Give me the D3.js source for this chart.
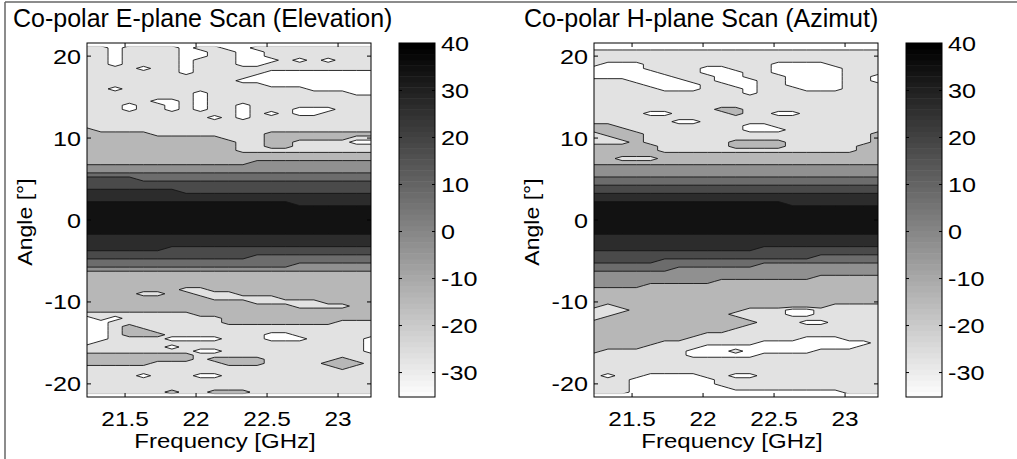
<!DOCTYPE html>
<html>
<head>
<meta charset="utf-8">
<script src="https://cdn.jsdelivr.net/npm/d3@7"></script>
<style>
body { margin: 0; background: #fff; }
text { font-family: "Liberation Sans", Arial, sans-serif; fill: #000; }
</style>
</head>
<body>
<svg id="fig" width="1017" height="459"></svg>
<script>
// sample grid: frequency columns and angle rows
const freqs = [21.23, 21.33, 21.43, 21.53, 21.63, 21.73, 21.83, 21.93, 22.03, 22.13, 22.23,
  22.33, 22.43, 22.53, 22.63, 22.73, 22.83, 22.93, 23.03, 23.13, 23.23];
const angles = [21, 20.5, 20, 19.5, 19, 18.5, 18, 17.5, 17, 16.5, 16, 15.5, 15, 14.5, 14, 13.5,
  13, 12.5, 12, 11.5, 11, 10.5, 10, 9.5, 9, 8.5, 8, 7.5, 7, 6.5, 6, 5.5, 5, 4.5, 4, 3.5, 3, 2.5,
  2, 1.5, 1, 0.5, 0, -0.5, -1, -1.5, -2, -2.5, -3, -3.5, -4, -4.5, -5, -5.5, -6, -6.5, -7, -7.5,
  -8, -8.5, -9, -9.5, -10, -10.5, -11, -11.5, -12, -12.5, -13, -13.5, -14, -14.5, -15, -15.5,
  -16, -16.5, -17, -17.5, -18, -18.5, -19, -19.5, -20, -20.5, -21];

// contour levels (dB) and the value each grid code stands for
const levels = [-30, -20, -10, 0, 10, 20, 30];
const codeDb = [-35, -25, -15, -5, 5, 15, 25, 35];
const levelFills = ["#e2e2e2", "#b7b7b7", "#909090", "#6c6c6c", "#4a4a4a", "#2c2c2c", "#121212"];

const xTicks = [21.5, 22, 22.5, 23];
const yTicks = [-20, -10, 0, 10, 20];
const cbarTicks = [-30, -20, -10, 0, 10, 20, 30, 40];
const cbarRange = [-35.2, 40.1];

// one string per angle row (top = +21 deg), one digit per frequency column
const ePlaneRows = [
  "11011 11011 00111 11111 1",
  "11011 11001 10011 11111 1",
  "11011 11001 10011 11111 1",
  "11011 11011 10001 01011 1",
  "11011 11011 10011 11111 1",
  "11110 11011 11111 11111 1",
  "11111 11011 11100 00000 0",
  "11111 11111 11000 00000 0",
  "11111 11111 10000 00000 0",
  "11111 11111 11100 00000 0",
  "11011 11111 11111 10000 0",
  "11111 11101 11111 11110 0",
  "11111 11101 11111 11111 1",
  "11111 00101 11111 11111 1",
  "11101 10101 10111 11111 1",
  "11101 10101 10111 00011 1",
  "11111 11111 10101 00111 1",
  "11111 11110 10111 11111 1",
  "11111 11111 11111 11111 1",
  "11111 11111 11111 11111 1",
  "21111 11111 11111 11111 1",
  "22222 11111 11122 22222 2",
  "22222 22222 11122 22221 1",
  "22222 22222 21122 11110 0",
  "22222 22222 21122 11111 1",
  "22222 22222 21111 11111 1",
  "22222 22222 22222 22222 2",
  "22222 22222 22222 22222 2",
  "22222 22222 22333 33333 3",
  "33333 33333 33333 33333 3",
  "33333 33333 33333 33333 3",
  "44444 44444 44444 44444 4",
  "55554 44444 44444 44444 4",
  "55555 55555 55555 55555 5",
  "55555 55555 55555 55555 5",
  "66666 66555 55555 55555 5",
  "66666 66666 66666 66666 6",
  "66666 66666 66666 66666 6",
  "77777 77777 77777 66666 6",
  "77777 77777 77777 77777 7",
  "77777 77777 77777 77777 7",
  "77777 77777 77777 77777 7",
  "77777 77777 77777 77777 7",
  "77777 77777 77777 77777 7",
  "77777 77777 77777 77777 7",
  "77777 77777 77777 77777 7",
  "66666 66666 66666 66666 6",
  "66666 66666 66666 66666 6",
  "66666 66666 66666 66666 6",
  "66666 65555 55555 55555 5",
  "55555 55555 55555 55555 5",
  "55555 55555 55444 44444 4",
  "44444 44444 44444 44444 4",
  "44444 44444 44444 33333 3",
  "33333 33333 33333 33333 3",
  "22222 22222 22222 22222 2",
  "22222 22222 22222 22222 2",
  "22222 22222 22222 22222 2",
  "22222 22222 22222 22222 2",
  "22222 22112 22222 22222 2",
  "22221 12211 12222 22222 2",
  "22222 22221 11112 22222 2",
  "22222 22222 22111 11222 2",
  "22222 22222 22222 11112 2",
  "22222 22222 22222 22222 2",
  "11111 11122 22222 22222 2",
  "01011 11111 22222 22222 2",
  "00111 11111 22222 22211 1",
  "00121 11111 11111 11111 1",
  "00122 11111 11111 11111 1",
  "00122 21111 11100 11111 1",
  "00111 10000 11100 01111 0",
  "01111 11111 11111 11111 0",
  "11111 10111 11111 11111 0",
  "11111 11100 11111 11111 0",
  "22222 22211 11111 11111 1",
  "22222 22212 22211 11121 1",
  "22222 11111 22211 11222 1",
  "11111 11111 11111 11121 1",
  "11111 11111 11111 11111 1",
  "11110 11100 11111 11111 1",
  "11111 11111 11111 11111 1",
  "11111 11111 11111 11111 1",
  "11111 11111 11111 11111 1",
  "11111 12112 22111 11111 1"
];

const hPlaneRows = [
  "00000 00000 00000 00000 0",
  "11111 11111 11111 11111 1",
  "11111 11111 11111 11111 1",
  "11111 11111 11111 11111 1",
  "10001 11111 11100 00111 1",
  "00001 11100 11100 00011 1",
  "00000 11100 01100 00011 1",
  "00000 01110 01110 00011 0",
  "11100 00110 00110 00011 0",
  "11110 00011 00110 00011 1",
  "11111 00011 10111 00011 1",
  "11111 11111 10111 11111 1",
  "11111 11111 11111 11111 1",
  "11111 11111 11111 11111 1",
  "11111 11111 11111 11111 1",
  "11111 11112 21111 11111 1",
  "11110 01111 21100 11111 1",
  "11111 11111 11111 11111 1",
  "11111 10011 11111 11111 1",
  "22111 11111 10011 11111 1",
  "22211 11111 10001 11111 1",
  "12221 11111 11111 11111 2",
  "11221 11111 11111 11111 2",
  "11121 11111 22221 11111 2",
  "22222 11111 22221 11112 2",
  "22222 11111 11111 11112 2",
  "22222 22222 22222 22222 2",
  "22111 22222 22222 22222 2",
  "22222 22222 22222 22222 2",
  "33333 33333 33333 33333 3",
  "33333 33333 33333 33333 3",
  "33333 33333 33333 33333 3",
  "44444 44444 44444 44444 4",
  "44444 44444 44444 44444 4",
  "55555 55555 55555 55555 5",
  "55555 55555 55555 55555 5",
  "66666 66666 66666 66666 6",
  "66666 66666 66666 66666 6",
  "77777 77777 77776 66666 6",
  "77777 77777 77777 77777 7",
  "77777 77777 77777 77777 7",
  "77777 77777 77777 77777 7",
  "77777 77777 77777 77777 7",
  "77777 77777 77777 77777 7",
  "77777 77777 77777 77777 7",
  "77777 77777 77777 77777 7",
  "66666 66666 66666 66666 6",
  "66666 66666 66666 66666 6",
  "66666 66666 66666 66666 6",
  "66666 66666 66555 55555 5",
  "55555 55555 55555 55555 5",
  "55555 55555 55555 54444 4",
  "55555 44444 44444 44444 4",
  "44444 44444 44333 33333 3",
  "44444 43333 33333 33333 3",
  "33333 33333 33333 33333 3",
  "33333 33333 33333 32222 2",
  "33333 33332 22222 22222 2",
  "33332 22222 22222 22222 2",
  "22222 22222 22222 22222 2",
  "22222 22222 22222 22222 2",
  "22222 22222 22222 22222 2",
  "22222 22222 22222 22222 2",
  "21222 22222 22222 22111 1",
  "11122 22222 21110 01111 1",
  "11222 22222 11110 01111 1",
  "12222 22222 21111 11111 1",
  "22222 22222 22111 00111 1",
  "22222 22222 21111 11111 1",
  "22222 22222 11111 11111 1",
  "22222 22211 11111 11111 1",
  "22222 22111 11111 00011 1",
  "22222 11111 11000 00000 1",
  "22221 11100 00000 00001 1",
  "21111 11000 10000 01111 1",
  "11111 11000 00111 11111 1",
  "11111 11111 11111 11111 1",
  "11111 11111 11111 11111 1",
  "11111 11111 11111 11111 1",
  "11111 11111 11111 11111 1",
  "10110 00011 00111 11111 1",
  "11100 00001 11111 11111 1",
  "11100 00001 11111 11111 1",
  "11100 00000 11111 11111 1",
  "11100 00000 00000 00011 1"
];

const svg = d3.select("#fig");
svg.append("rect").attr("width", 1017).attr("height", 459).attr("fill", "#fff");

// figure frame (top and left edges visible in the picture)
svg.append("line").attr("x1", 5).attr("y1", 2).attr("x2", 1017).attr("y2", 2)
  .attr("stroke", "#666").attr("stroke-width", 1.5);
svg.append("line").attr("x1", 5).attr("y1", 2).attr("x2", 5).attr("y2", 459)
  .attr("stroke", "#666").attr("stroke-width", 1.5);

const plotTop = 43, plotBottom = 397, plotW = 284;

// text a bit wider than Liberation Sans, as in the picture
function label(g, x, y, str, size, anchor, sx, rot) {
  return g.append("text")
    .attr("transform", `translate(${x},${y})` + (rot ? ` rotate(${rot})` : "") + ` scale(${sx},1)`)
    .attr("text-anchor", anchor)
    .attr("font-size", size)
    .text(str);
}

function drawPanel(id, left, rows, title, titleX, cbLeft) {
  const x = d3.scaleLinear().domain([21.232, 23.232]).range([left, left + plotW]);
  const y = d3.scaleLinear().domain([-21.6, 21.6]).range([plotBottom, plotTop]);

  const values = [];
  rows.forEach(r => r.replace(/ /g, "").split("").forEach(c => values.push(codeDb[+c])));

  const nx = freqs.length, ny = angles.length;
  const df = freqs[1] - freqs[0], da = angles[1] - angles[0];
  const proj = d3.geoTransform({
    point: function(gx, gy) {
      this.stream.point(x(freqs[0] + (gx - 0.5) * df), y(angles[0] + (gy - 0.5) * da));
    }
  });
  const path = d3.geoPath(proj);
  const bands = d3.contours().size([nx, ny]).thresholds(levels)(values);

  const defs = svg.append("defs");
  defs.append("clipPath").attr("id", id + "-clip")
    .append("rect").attr("x", left).attr("y", plotTop).attr("width", plotW).attr("height", plotBottom - plotTop);
  const yTop = y(angles[0] - 0.5 * da), yBot = y(angles[ny - 1] + 0.5 * da);
  defs.append("clipPath").attr("id", id + "-lclip")
    .append("rect").attr("x", left).attr("y", yTop + 0.8).attr("width", plotW).attr("height", yBot - yTop - 1.6);

  svg.append("g").attr("clip-path", `url(#${id}-clip)`)
    .selectAll("path").data(bands).enter().append("path")
    .attr("d", path)
    .attr("fill", (d, i) => levelFills[i])
    .attr("stroke", "none");

  svg.append("g").attr("clip-path", `url(#${id}-lclip)`)
    .selectAll("path").data(bands).enter().append("path")
    .attr("d", path)
    .attr("fill", "none")
    .attr("stroke", "#151515")
    .attr("stroke-width", 0.9);

  // axes box and inward ticks on all four sides
  const ax = svg.append("g").attr("stroke", "#000").attr("stroke-width", 1);
  ax.append("rect").attr("x", left).attr("y", plotTop).attr("width", plotW)
    .attr("height", plotBottom - plotTop).attr("fill", "none");
  xTicks.forEach(t => {
    ax.append("line").attr("x1", x(t)).attr("x2", x(t)).attr("y1", plotBottom).attr("y2", plotBottom - 4);
    ax.append("line").attr("x1", x(t)).attr("x2", x(t)).attr("y1", plotTop).attr("y2", plotTop + 4);
  });
  yTicks.forEach(t => {
    ax.append("line").attr("x1", left).attr("x2", left + 4).attr("y1", y(t)).attr("y2", y(t));
    ax.append("line").attr("x1", left + plotW).attr("x2", left + plotW - 4).attr("y1", y(t)).attr("y2", y(t));
  });

  const txt = svg.append("g");
  xTicks.forEach(t => label(txt, x(t), 426, t, 20, "middle", 1.22));
  yTicks.forEach(t => label(txt, left - 6, y(t) + 7.5, t, 21, "end", 1.2));
  label(txt, left + plotW / 2 - 4, 448, "Frequency [GHz]", 20, "middle", 1.2);
  label(txt, left - 55, 222, "Angle [°]", 21, "middle", 1.1, -90);
  txt.append("text").attr("x", titleX).attr("y", 27).attr("font-size", 25).text(title);

  // colorbar
  const cy = d3.scaleLinear().domain(cbarRange).range([plotBottom, plotTop]);
  const steps = 64;
  const cb = svg.append("g");
  for (let i = 0; i < steps; i++) {
    const v0 = cbarRange[0] + (cbarRange[1] - cbarRange[0]) * i / steps;
    const v1 = cbarRange[0] + (cbarRange[1] - cbarRange[0]) * (i + 1) / steps;
    const g = Math.round(252 * (1 - i / (steps - 1)));
    cb.append("rect").attr("x", cbLeft).attr("width", 36)
      .attr("y", cy(v1)).attr("height", cy(v0) - cy(v1) + 0.5)
      .attr("fill", d3.rgb(g, g, g));
  }
  cb.append("rect").attr("x", cbLeft).attr("y", plotTop).attr("width", 36)
    .attr("height", plotBottom - plotTop).attr("fill", "none").attr("stroke", "#000");
  cbarTicks.forEach(t => {
    cb.append("line").attr("x1", cbLeft).attr("x2", cbLeft + 3).attr("y1", cy(t)).attr("y2", cy(t)).attr("stroke", "#000");
    cb.append("line").attr("x1", cbLeft + 36).attr("x2", cbLeft + 33).attr("y1", cy(t)).attr("y2", cy(t)).attr("stroke", "#000");
    label(cb, cbLeft + 42, cy(t) + 7.5, t, 21, "start", 1.2);
  });
}

drawPanel("e", 87, ePlaneRows, "Co-polar E-plane Scan (Elevation)", 13, 399);
drawPanel("h", 594, hPlaneRows, "Co-polar H-plane Scan (Azimut)", 524, 906);
</script>
</body>
</html>
